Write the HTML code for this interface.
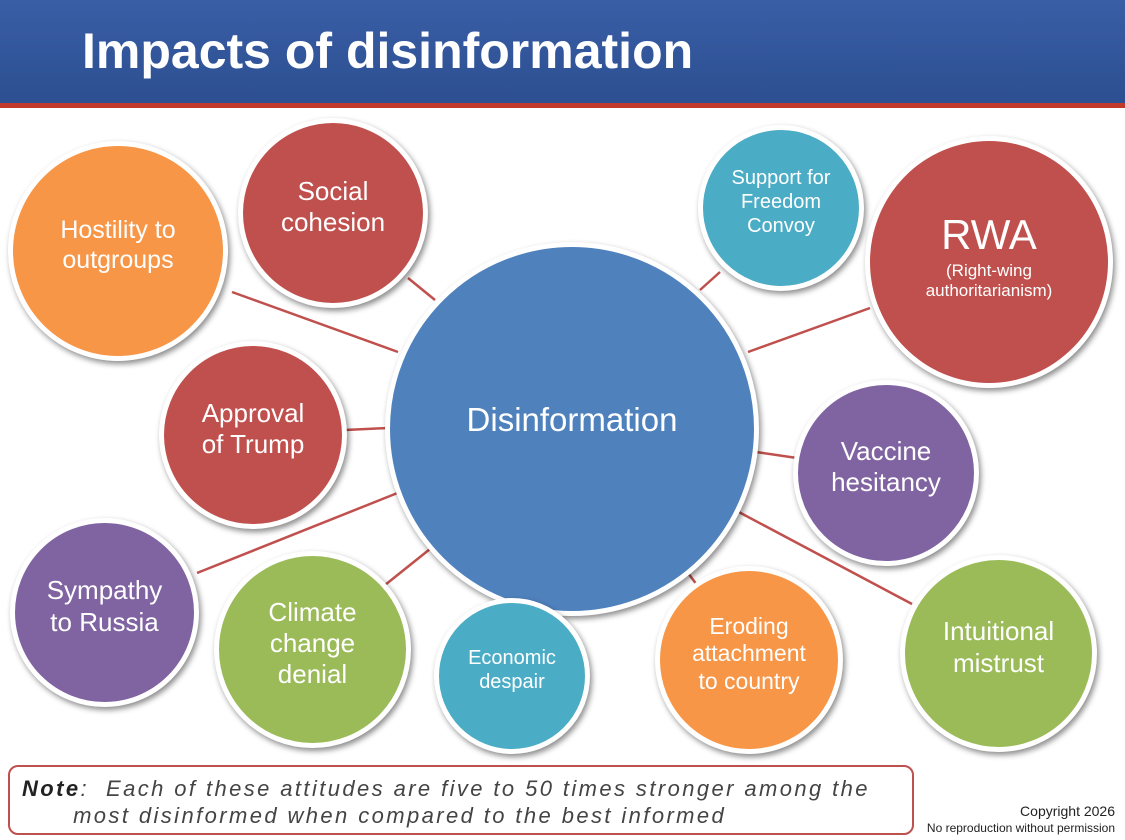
<!DOCTYPE html>
<html><head><meta charset="utf-8"><style>
body{margin:0;width:1125px;height:840px;background:#fff;position:relative;overflow:hidden;font-family:"Liberation Sans",sans-serif}
.hdr{position:absolute;left:0;top:0;width:1125px;height:103px;background:linear-gradient(#3a5ea6,#2c4f91)}
.red{position:absolute;left:0;top:103px;width:1125px;height:5px;background:#C0392B}
.title{position:absolute;left:82px;top:22px;color:#fff;font-size:50px;font-weight:bold}
.c{position:absolute;border-radius:50%;border:5px solid #fff;box-sizing:border-box;box-shadow:2px 3px 6px rgba(0,0,0,.45);display:flex;align-items:center;justify-content:center;text-align:center;color:#fff;line-height:1.2}
.c>div{margin-top:-12px}
.note{position:absolute;left:8px;top:765px;width:906px;height:70px;box-sizing:border-box;border:2px solid #C0504D;border-radius:10px;font-style:italic;color:#444;font-size:22px;letter-spacing:2.4px;padding:8px 12px;line-height:27px}
.cp{position:absolute;right:10px;top:803px;text-align:right;font-size:14px;color:#222;line-height:16px}
</style></head><body>
<div class="hdr"></div><div class="red"></div>
<div class="title">Impacts of disinformation</div>
<svg style="position:absolute;left:0;top:0" width="1125" height="840" stroke="#C0504D" stroke-width="2.5">
<line x1="232" y1="292" x2="398" y2="352"/><line x1="408" y1="278" x2="435" y2="300"/>
<line x1="700" y1="290" x2="720" y2="272"/><line x1="748" y1="352" x2="870" y2="308"/>
<line x1="345" y1="430" x2="388" y2="428"/><line x1="756" y1="452" x2="797" y2="458"/>
<line x1="197" y1="573" x2="400" y2="492"/><line x1="385" y1="585" x2="435" y2="545"/>
<line x1="527" y1="605" x2="532" y2="592"/><line x1="682" y1="565" x2="697" y2="585"/>
<line x1="735" y1="510" x2="912" y2="604"/>
</svg>
<div class="c" style="left:385px;top:242px;width:374px;height:374px;background:#4F81BD;font-size:33px"><div style="margin-top:-18px">Disinformation</div></div>
<div class="c" style="left:8px;top:141px;width:220px;height:220px;background:#F79646;font-size:25px"><div>Hostility to<br>outgroups</div></div>
<div class="c" style="left:238px;top:118px;width:190px;height:190px;background:#C0504D;font-size:26px"><div>Social<br>cohesion</div></div>
<div class="c" style="left:698px;top:125px;width:166px;height:166px;background:#4BACC6;font-size:20px"><div>Support for<br>Freedom<br>Convoy</div></div>
<div class="c" style="left:865px;top:136px;width:248px;height:252px;background:#C0504D;font-size:17px"><div><span style="font-size:42px">RWA</span><br>(Right-wing<br>authoritarianism)</div></div>
<div class="c" style="left:159px;top:341px;width:188px;height:188px;background:#C0504D;font-size:26px"><div>Approval<br>of Trump</div></div>
<div class="c" style="left:793px;top:380px;width:186px;height:186px;background:#8064A2;font-size:26px"><div>Vaccine<br>hesitancy</div></div>
<div class="c" style="left:10px;top:518px;width:189px;height:189px;background:#8064A2;font-size:26px"><div>Sympathy<br>to Russia</div></div>
<div class="c" style="left:214px;top:551px;width:197px;height:197px;background:#9BBB59;font-size:26px"><div>Climate<br>change<br>denial</div></div>
<div class="c" style="left:434px;top:598px;width:156px;height:156px;background:#4BACC6;font-size:20px"><div>Economic<br>despair</div></div>
<div class="c" style="left:655px;top:566px;width:188px;height:188px;background:#F79646;font-size:23px"><div>Eroding<br>attachment<br>to country</div></div>
<div class="c" style="left:900px;top:555px;width:197px;height:197px;background:#9BBB59;font-size:26px"><div>Intuitional<br>mistrust</div></div>
<div class="note"><b style="color:#222">Note</b>:&nbsp; Each of these attitudes are five to 50 times stronger among the<br>&nbsp;&nbsp;&nbsp;&nbsp;&nbsp;&nbsp;most disinformed when compared to the best informed</div>
<div class="cp">Copyright 2026<br><span style="font-size:12px">No reproduction without permission</span></div>
</body></html>
